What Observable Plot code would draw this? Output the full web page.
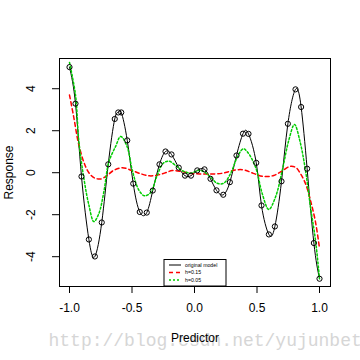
<!DOCTYPE html>
<html>
<head>
<meta charset="utf-8">
<script src="https://cdn.jsdelivr.net/npm/d3@7"></script>
<script src="https://cdn.jsdelivr.net/npm/@observablehq/plot@0.6"></script>
<style>
  html, body { margin: 0; padding: 0; background: #fff; }
  #chart { width: 360px; height: 360px; overflow: hidden; }
</style>
</head>
<body>
<div id="chart"></div>
<script>
const pointX = [-1.0, -0.952, -0.904, -0.845, -0.797, -0.742, -0.69, -0.638, -0.61, -0.586,
  -0.538, -0.49, -0.438, -0.382, -0.334, -0.28, -0.232, -0.184, -0.126, -0.076,
  -0.028, 0.022, 0.08, 0.128, 0.176, 0.23, 0.283, 0.336, 0.388, 0.432,
  0.494, 0.536, 0.595, 0.643, 0.696, 0.747, 0.808, 0.853, 0.901, 0.955, 1.0];
const pointY = [5.03, 3.29, -0.18, -3.18, -3.99, -2.37, 0.40, 2.56, 2.87, 2.87,
  1.54, -0.52, -1.87, -1.90, -0.85, 0.40, 1.01, 0.87, 0.24, -0.14,
  -0.14, 0.11, 0.16, -0.29, -0.84, -1.05, -0.45, 0.82, 1.86, 1.85,
  0.47, -1.56, -2.94, -2.56, -0.41, 2.33, 3.97, 3.13, 0.19, -3.35, -5.05];

// Smoother with h = 0.15 (red dashed)
const redX = [-1.0, -0.966, -0.93, -0.885, -0.845, -0.8, -0.75, -0.7, -0.65, -0.578,
  -0.5, -0.43, -0.36, -0.3, -0.24, -0.178, -0.1, -0.02, 0.06, 0.14,
  0.22, 0.28, 0.34, 0.40, 0.47, 0.554, 0.634, 0.70, 0.765, 0.81,
  0.848, 0.888, 0.928, 0.968, 1.0];
const redY = [3.70, 2.65, 1.45, 0.50, 0.00, -0.25, -0.30, -0.14, 0.10, 0.24,
  0.10, -0.05, -0.15, -0.12, -0.02, 0.10, 0.05, -0.04, -0.06, -0.06,
  -0.03, 0.06, 0.14, 0.13, -0.03, -0.18, -0.13, 0.08, 0.30, 0.25,
  -0.05, -0.52, -1.32, -2.35, -3.60];

// Smoother with h = 0.05 (green dotted)
const greenX = [-1.0, -0.952, -0.925, -0.885, -0.845, -0.805, -0.765, -0.725, -0.685, -0.632,
  -0.59, -0.539, -0.498, -0.445, -0.40, -0.352, -0.30, -0.25, -0.205, -0.152,
  -0.098, -0.032, 0.034, 0.074, 0.128, 0.18, 0.234, 0.288, 0.342, 0.39,
  0.422, 0.488, 0.542, 0.594, 0.648, 0.702, 0.754, 0.80, 0.842, 0.888,
  0.928, 0.968, 1.0];
const greenY = [5.25, 3.70, 1.48, -0.27, -1.54, -2.33, -1.94, -0.90, 0.52, 1.24,
  1.73, 1.24, 0.12, -0.83, -1.10, -0.95, -0.15, 0.45, 0.55, 0.35,
  0.10, -0.02, 0.11, 0.05, -0.21, -0.50, -0.50, -0.05, 0.74, 1.14,
  1.00, 0.27, -1.00, -1.75, -1.16, 0.11, 1.54, 2.30, 1.54, 0.11,
  -1.64, -3.22, -5.05];

const xTicks = [-1.0, -0.5, 0.0, 0.5, 1.0];
const yTicks = [-4, -2, 0, 2, 4];
const legendLabels = ["original model", "h=0.15", "h=0.05"];
const xTitle = "Predictor";
const yTitle = "Response";
const watermark = "http://blog.csdn.net/yujunbeta";

const points = pointX.map((x, i) => ({x, y: pointY[i]}));
const red = redX.map((x, i) => ({x, y: redY[i]}));
const green = greenX.map((x, i) => ({x, y: greenY[i]}));

const font = "'Liberation Sans', Arial, sans-serif";

const chart = Plot.plot({
  width: 360,
  height: 360,
  marginLeft: 59,
  marginRight: 30,
  marginTop: 58,
  marginBottom: 74,
  style: {fontFamily: font, fontSize: "12px", background: "white", color: "black"},
  x: {domain: [-1.08, 1.088]},
  y: {domain: [-5.42, 5.44]},
  marks: [
    Plot.text([watermark], {frameAnchor: "bottom-left", dx: -11, dy: 59, text: d => d,
      textAnchor: "start", lineAnchor: "bottom", fontFamily: "'Liberation Mono', monospace",
      fontSize: 18, fill: "#d6d6d6"}),
    Plot.frame({stroke: "black", strokeWidth: 1}),
    Plot.axisX({ticks: xTicks, tickSize: 7, tickPadding: 10, tickFormat: d => d.toFixed(1),
      label: null, fontSize: 12, fill: "black", stroke: "black"}),
    Plot.axisY({ticks: yTicks, tickSize: 7, tickFormat: () => "", label: null, stroke: "black"}),
    Plot.text(yTicks, {y: d => d, text: d => String(d), frameAnchor: "left", dx: -28.5,
      rotate: -90, textAnchor: "middle", lineAnchor: "middle", fontSize: 12, fill: "black"}),
    Plot.text([yTitle], {text: d => d, frameAnchor: "left", dx: -50, rotate: -90,
      textAnchor: "middle", lineAnchor: "middle", fontSize: 12, fill: "black"}),
    Plot.text([xTitle], {text: d => d, frameAnchor: "bottom", dy: 52,
      textAnchor: "middle", lineAnchor: "middle", fontSize: 12, fill: "black"}),
    Plot.line(points, {x: "x", y: "y", curve: "natural", stroke: "black", strokeWidth: 1}),
    Plot.line(red, {x: "x", y: "y", curve: "catmull-rom", stroke: "#ff0000", strokeWidth: 1.5,
      strokeDasharray: "4,3"}),
    Plot.line(green, {x: "x", y: "y", curve: "catmull-rom", stroke: "#00cd00", strokeWidth: 1.5,
      strokeDasharray: "2,2"}),
    Plot.dot(points, {x: "x", y: "y", r: 2.6, stroke: "black", strokeWidth: 1, fill: "none"})
  ]
});

document.getElementById("chart").appendChild(chart);

// Legend (R-style box at bottom centre of the plot region)
const svg = d3.select(chart);
const lg = svg.append("g").attr("transform", "translate(164,259.5)");
lg.append("rect").attr("x", 0).attr("y", 0).attr("width", 62).attr("height", 26.5)
  .attr("fill", "white").attr("stroke", "black").attr("stroke-width", 1);
const legendStyles = [
  {stroke: "black", dash: null},
  {stroke: "#ff0000", dash: "4,3"},
  {stroke: "#00cd00", dash: "2,2"}
];
legendLabels.forEach((lab, i) => {
  const yy = 5.5 + i * 7.5;
  lg.append("line").attr("x1", 5).attr("x2", 17).attr("y1", yy).attr("y2", yy)
    .attr("stroke", legendStyles[i].stroke).attr("stroke-width", i === 0 ? 1 : 1.5)
    .attr("stroke-dasharray", legendStyles[i].dash);
  lg.append("text").attr("x", 21).attr("y", yy).attr("dy", "0.35em")
    .attr("text-anchor", "start")
    .attr("font-size", 5.2).attr("font-family", font).attr("fill", "black").text(lab);
});
</script>
</body>
</html>
